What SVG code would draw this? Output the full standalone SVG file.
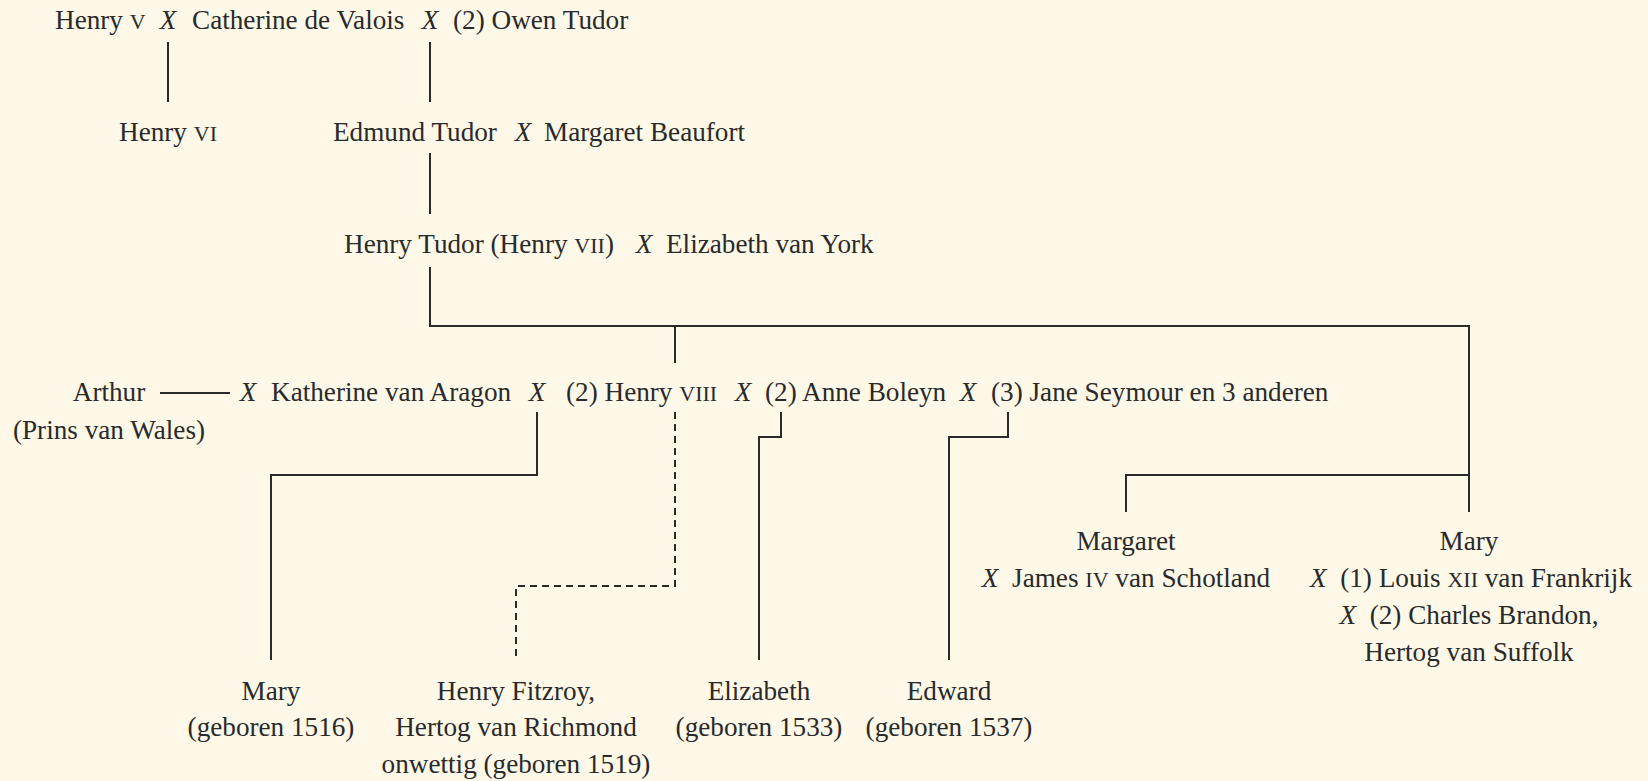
<svg xmlns="http://www.w3.org/2000/svg" width="1648" height="781" viewBox="0 0 1648 781">
<style>
text{font-family:"Liberation Serif","Times New Roman",serif;font-size:27.2px;fill:#2a2a2a}
.x{font-style:italic}
.m{text-anchor:middle}
.sc{font-variant:small-caps;font-size:31px}
.c{fill:none;stroke:#2a2a2a;stroke-width:2}
.d{stroke-dasharray:7 5}
</style>
<rect width="1648" height="781" fill="#fdf8e7"/>
<g id="connectors">
<path class="c" d="M168 42V102"/>
<path class="c" d="M430 42V102"/>
<path class="c" d="M430 153V214"/>
<path class="c" d="M430 267V326H1469V512"/>
<path class="c" d="M675 326V363"/>
<path class="c" d="M1469 475H1126V512"/>
<path class="c" d="M160 393H230"/>
<path class="c" d="M537 412V475H271V660"/>
<path class="c d" d="M675 412V586H516V660"/>
<path class="c" d="M781 412V437H759V660"/>
<path class="c" d="M1008 412V437H949V660"/>
</g>
<g id="henry-v"><text x="55" y="29">Henry <tspan class="sc">v</tspan></text></g>
<g id="m1"><text class="x m" x="168" y="29">X</text></g>
<g id="catherine"><text x="192" y="29">Catherine de Valois</text></g>
<g id="m2"><text class="x m" x="430" y="29">X</text></g>
<g id="owen"><text x="453" y="29">(2) Owen Tudor</text></g>
<g id="henry-vi"><text class="m" x="168" y="141">Henry <tspan class="sc">vi</tspan></text></g>
<g id="edmund"><text x="333" y="141">Edmund Tudor</text></g>
<g id="m3"><text class="x m" x="523" y="141">X</text></g>
<g id="margaret-beaufort"><text x="544" y="141">Margaret Beaufort</text></g>
<g id="henry-vii"><text x="344" y="253">Henry Tudor (Henry <tspan class="sc">vii</tspan>)</text></g>
<g id="m4"><text class="x m" x="644" y="253">X</text></g>
<g id="elizabeth-york"><text x="666" y="253">Elizabeth van York</text></g>
<g id="arthur"><text class="m" x="109" y="401">Arthur</text><text class="m" x="109" y="439">(Prins van Wales)</text></g>
<g id="m5"><text class="x m" x="248" y="401">X</text></g>
<g id="katherine"><text x="271" y="401">Katherine van Aragon</text></g>
<g id="m6"><text class="x m" x="537" y="401">X</text></g>
<g id="henry-viii"><text x="566" y="401">(2) Henry <tspan class="sc">viii</tspan></text></g>
<g id="m7"><text class="x m" x="743" y="401">X</text></g>
<g id="anne"><text x="765" y="401">(2) Anne Boleyn</text></g>
<g id="m8"><text class="x m" x="968" y="401">X</text></g>
<g id="jane"><text x="991" y="401">(3) Jane Seymour en 3 anderen</text></g>
<g id="margaret"><text class="m" x="1126" y="550">Margaret</text><text class="m" x="1126" y="587"><tspan class="x">X</tspan>&#160;&#160;James <tspan class="sc">iv</tspan> van Schotland</text></g>
<g id="mary-tudor"><text class="m" x="1469" y="550">Mary</text><text class="m" x="1471" y="587"><tspan class="x">X</tspan>&#160;&#160;(1) Louis <tspan class="sc">xii</tspan> van Frankrijk</text><text class="m" x="1469" y="624"><tspan class="x">X</tspan>&#160;&#160;(2) Charles Brandon,</text><text class="m" x="1469" y="661">Hertog van Suffolk</text></g>
<g id="mary"><text class="m" x="271" y="700">Mary</text><text class="m" x="271" y="736">(geboren 1516)</text></g>
<g id="fitzroy"><text class="m" x="516" y="700">Henry Fitzroy,</text><text class="m" x="516" y="736">Hertog van Richmond</text><text class="m" x="516" y="773">onwettig (geboren 1519)</text></g>
<g id="elizabeth"><text class="m" x="759" y="700">Elizabeth</text><text class="m" x="759" y="736">(geboren 1533)</text></g>
<g id="edward"><text class="m" x="949" y="700">Edward</text><text class="m" x="949" y="736">(geboren 1537)</text></g>
</svg>
